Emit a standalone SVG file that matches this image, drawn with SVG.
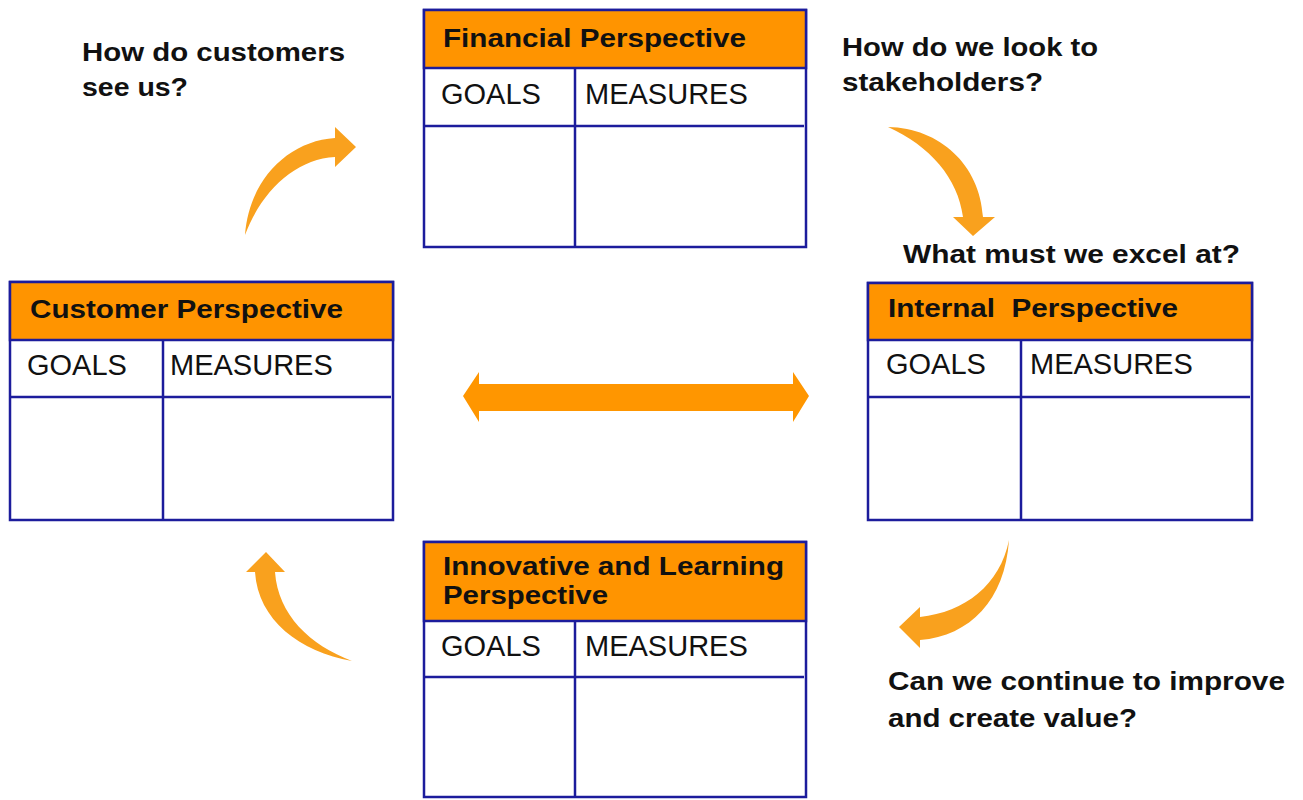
<svg xmlns="http://www.w3.org/2000/svg" width="1303" height="800" viewBox="0 0 1303 800">
<style>
.box{fill:#ffffff;stroke:#1c1c9c;stroke-width:2.5}
.hdr{fill:#ff9400;stroke:#1c1c9c;stroke-width:2.5}
.ln{stroke:#1c1c9c;stroke-width:2.5;fill:none}
.b{font-family:"Liberation Sans",Arial,sans-serif;font-weight:bold;font-size:26.5px;fill:#111}
.r{font-family:"Liberation Sans",Arial,sans-serif;font-size:29px;fill:#111}
.arr{fill:#f9a11e}
.dbl{fill:#ff9600}
</style>
<rect width="1303" height="800" fill="#ffffff"/>

<g id="financial">
<rect class="box" x="424" y="10" width="382" height="237"/>
<rect class="hdr" x="424" y="10" width="382" height="58"/>
<line class="ln" x1="424" y1="126" x2="804" y2="126"/>
<line class="ln" x1="575" y1="68" x2="575" y2="247"/>
<text class="b" x="443" y="47" textLength="303" lengthAdjust="spacingAndGlyphs">Financial Perspective</text>
<text class="r" x="441" y="104">GOALS</text>
<text class="r" x="585" y="104">MEASURES</text>
</g>

<g id="customer">
<rect class="box" x="10" y="282" width="383" height="238"/>
<rect class="hdr" x="10" y="282" width="383" height="58"/>
<line class="ln" x1="10" y1="397" x2="391" y2="397"/>
<line class="ln" x1="163" y1="340" x2="163" y2="520"/>
<text class="b" x="30" y="318" textLength="313" lengthAdjust="spacingAndGlyphs">Customer Perspective</text>
<text class="r" x="27" y="375">GOALS</text>
<text class="r" x="170" y="375">MEASURES</text>
</g>

<g id="internal">
<rect class="box" x="868" y="283" width="384" height="237"/>
<rect class="hdr" x="868" y="283" width="384" height="57"/>
<line class="ln" x1="868" y1="397" x2="1250" y2="397"/>
<line class="ln" x1="1021" y1="340" x2="1021" y2="520"/>
<text class="b" x="888" y="317" textLength="290" lengthAdjust="spacingAndGlyphs" style="white-space:pre">Internal  Perspective</text>
<text class="r" x="886" y="374">GOALS</text>
<text class="r" x="1030" y="374">MEASURES</text>
</g>

<g id="innovative">
<rect class="box" x="424" y="542" width="382" height="255"/>
<rect class="hdr" x="424" y="542" width="382" height="79"/>
<line class="ln" x1="424" y1="677" x2="804" y2="677"/>
<line class="ln" x1="575" y1="621" x2="575" y2="797"/>
<text class="b" x="443" y="575" textLength="341" lengthAdjust="spacingAndGlyphs">Innovative and Learning</text>
<text class="b" x="443" y="604" textLength="165" lengthAdjust="spacingAndGlyphs">Perspective</text>
<text class="r" x="441" y="656">GOALS</text>
<text class="r" x="585" y="656">MEASURES</text>
</g>

<g id="questions">
<text class="b" x="82" y="60.5" textLength="263" lengthAdjust="spacingAndGlyphs">How do customers</text>
<text class="b" x="82" y="96" textLength="106" lengthAdjust="spacingAndGlyphs">see us?</text>
<text class="b" x="842" y="56" textLength="256" lengthAdjust="spacingAndGlyphs">How do we look to</text>
<text class="b" x="842" y="91" textLength="201" lengthAdjust="spacingAndGlyphs">stakeholders?</text>
<text class="b" x="903" y="263" textLength="337" lengthAdjust="spacingAndGlyphs">What must we excel at?</text>
<text class="b" x="888" y="690" textLength="397" lengthAdjust="spacingAndGlyphs">Can we continue to improve</text>
<text class="b" x="888" y="727" textLength="249" lengthAdjust="spacingAndGlyphs">and create value?</text>
</g>

<g id="connectors">
<path class="arr" d="M245,235 C249,180 288,141 335,138 L335,127 L356,147 L335,167 L335,157 C296,159 262,190 245,235 Z"/>
<path class="arr" d="M888,127 C940,128 980,165 983,217 L995,217 L973,236 L953,217 L963,217 C958,178 930,146 888,127 Z"/>
<path class="arr" d="M1009,540 C1005,600 970,636 920,640 L920,648 L899,627 L920,607 L920,617 C965,612 1000,585 1009,540 Z"/>
<path class="arr" d="M255,572 C258,620 300,652 352,661 C310,645 278,615 275,572 L285,572 L266,552 L246,572 Z"/>
<path class="dbl" d="M463,396 L479,372 L479,384 L793,384 L793,372 L809,396 L793,422 L793,411 L479,411 L479,422 Z"/>
</g>
</svg>
